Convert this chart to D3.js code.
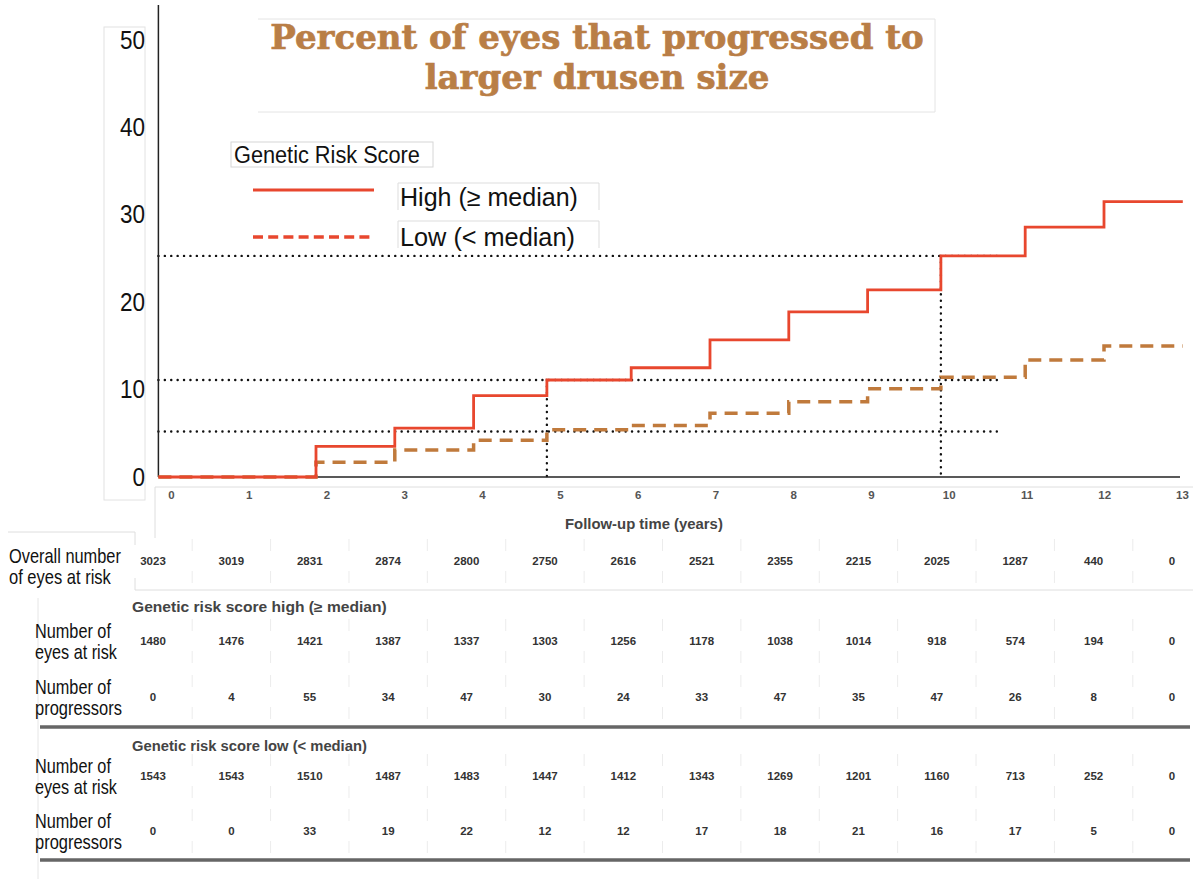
<!DOCTYPE html>
<html>
<head>
<meta charset="utf-8" />
<script src="https://d3js.org/d3.v7.min.js"></script>
<style>
  body { margin: 0; background: #fff; }
</style>
</head>
<body>
<svg id="chart"></svg>
<script>
// step curve data (percent progressed)
const stepTimes = [0, 2, 3, 4, 4.93, 6, 7, 8, 9, 9.93, 11, 12];
const endTime = 13;
const highPct = [0, 3.5, 5.6, 9.3, 11.1, 12.5, 15.7, 18.9, 21.4, 25.3, 28.6, 31.5];
const lowPct = [0, 1.7, 3.1, 4.2, 5.4, 5.9, 7.3, 8.6, 10.1, 11.4, 13.4, 15.0];

// dotted reference lines
const refLevels = [25.3, 11.1, 5.2];
const refEnd = 10.64;
const refVerticals = [{t: 4.93, top: 11.1}, {t: 9.93, top: 25.3}];

const yTicks = [0, 10, 20, 30, 40, 50];
const xTicks = [0, 1, 2, 3, 4, 5, 6, 7, 8, 9, 10, 11, 12, 13];

// numbers-at-risk table
const overallAtRisk = [3023, 3019, 2831, 2874, 2800, 2750, 2616, 2521, 2355, 2215, 2025, 1287, 440, 0];
const highAtRisk = [1480, 1476, 1421, 1387, 1337, 1303, 1256, 1178, 1038, 1014, 918, 574, 194, 0];
const highProg = [0, 4, 55, 34, 47, 30, 24, 33, 47, 35, 47, 26, 8, 0];
const lowAtRisk = [1543, 1543, 1510, 1487, 1483, 1447, 1412, 1343, 1269, 1201, 1160, 713, 252, 0];
const lowProg = [0, 0, 33, 19, 22, 12, 12, 17, 18, 21, 16, 17, 5, 0];

const W = 1200, H = 879;
const svg = d3.select('#chart').attr('width', W).attr('height', H);

const red = '#e8472e';
const brown = '#c07a3c';
const faint = '#dedede';
const sans = '"Liberation Sans", Arial, Helvetica, sans-serif';

const x = d3.scaleLinear().domain([0, 13]).range([158.4, 1182.8]);
const y = d3.scaleLinear().domain([0, 50]).range([477, 40]);
const xt = d3.scaleLinear().domain([0, 13]).range([171, 1182]);
const xc = d3.scaleLinear().domain([0, 13]).range([153, 1172]);

function line(x1, y1, x2, y2, stroke, w) {
    return svg.append('line').attr('x1', x1).attr('y1', y1).attr('x2', x2).attr('y2', y2)
        .attr('stroke', stroke).attr('stroke-width', w || 1);
}

// squeeze a text horizontally to the width seen in the picture (condensed look)
function squeeze(t, px, py, width) {
    const len = t.node().getComputedTextLength();
    t.attr('transform', `translate(${px},${py}) scale(${width / len},1)`);
    return t;
}
function narrow(px, py, size, str, width, opts) {
    opts = opts || {};
    const t = svg.append('text').attr('x', 0).attr('y', 0)
        .attr('font-family', sans).attr('font-size', size)
        .attr('font-weight', opts.bold ? 'bold' : 'normal')
        .attr('fill', opts.fill || '#111').text(str);
    return squeeze(t, px, py, width);
}

// frames / faint boxes of the pasted pieces
svg.append('rect').attr('x', 104).attr('y', 27).attr('width', 41).attr('height', 473)
    .attr('fill', 'none').attr('stroke', '#e2e2e2');
line(258, 19, 935, 19, '#e4e4e4');
line(258, 112, 935, 112, '#e4e4e4');
line(935, 19, 935, 112, '#e4e4e4');
line(155, 487, 1193, 487, faint);
line(155, 487, 155, 538, faint);

// title
const title = svg.append('text').attr('text-anchor', 'middle')
    .attr('font-family', '"DejaVu Serif", serif').attr('font-weight', 'bold')
    .attr('font-size', 34).attr('fill', '#b97e46')
    .attr('stroke', '#b97e46').attr('stroke-width', 0.7);
title.append('tspan').attr('x', 597).attr('y', 49).text('Percent of eyes that progressed to');
title.append('tspan').attr('x', 597).attr('y', 89).text('larger drusen size');

// y axis labels
const yAxis = svg.append('g').attr('transform', 'translate(145,0)')
    .call(d3.axisLeft(y).tickValues(yTicks).tickSize(0).tickPadding(0));
yAxis.select('.domain').remove();
yAxis.selectAll('text').attr('font-family', sans).attr('font-size', 25).attr('fill', '#111')
    .attr('transform', 'scale(0.9,1)');

// x axis labels
const xAxis = svg.append('g').attr('transform', 'translate(0,491)')
    .call(d3.axisBottom(xt).tickValues(xTicks).tickSize(0).tickPadding(0));
xAxis.select('.domain').remove();
xAxis.selectAll('text').attr('font-family', sans)
    .attr('font-weight', 'bold').attr('font-size', 11.5).attr('fill', '#555');

narrow(565, 529, 14, 'Follow-up time (years)', 158, {bold: true, fill: '#444'});

// dotted reference lines
refLevels.forEach(v => {
    line(x(0), y(v), x(refEnd), y(v), '#111', 2.4)
        .attr('stroke-dasharray', '0.1,6.3').attr('stroke-linecap', 'round');
});
refVerticals.forEach(r => {
    line(x(r.t), y(r.top), x(r.t), y(0), '#111', 2.4)
        .attr('stroke-dasharray', '0.1,6.3').attr('stroke-linecap', 'round');
});

// axes lines
line(x(0), 5, x(0), y(0), '#222', 1.5);
line(x(0), y(0), 1180, y(0), '#222', 1.5);

// step curves
function stepData(vals) {
    const pts = stepTimes.map((t, i) => [t, vals[i]]);
    pts.push([endTime, vals[vals.length - 1]]);
    return pts;
}
const stepLine = d3.line().x(d => x(d[0])).y(d => y(d[1])).curve(d3.curveStepAfter);

svg.append('path').datum(stepData(lowPct)).attr('d', stepLine)
    .attr('fill', 'none').attr('stroke', brown).attr('stroke-width', 3.5)
    .attr('stroke-dasharray', '13,8');
svg.append('path').datum(stepData(highPct)).attr('d', stepLine)
    .attr('fill', 'none').attr('stroke', red).attr('stroke-width', 2.8);

// legend
svg.append('rect').attr('x', 231).attr('y', 142).attr('width', 202).attr('height', 25)
    .attr('fill', '#fff').attr('stroke', '#d6d6d6');
narrow(234, 163, 23, 'Genetic Risk Score', 186);

line(398, 183, 599, 183, '#ddd'); line(599, 183, 599, 210, '#ddd'); line(398, 183, 398, 210, '#ddd');
line(398, 221, 599, 221, '#ddd'); line(599, 221, 599, 248, '#ddd'); line(398, 221, 398, 248, '#ddd');

line(253, 190, 374, 190, red, 2.8);
line(253, 237, 374, 237, red, 3.5).attr('stroke-dasharray', '10,5.2');
narrow(400, 206, 25.5, 'High (\u2265 median)', 178);
narrow(400, 246, 25.5, 'Low (< median)', 175);

// table
line(8, 532, 135, 532, faint);
line(135, 532, 135, 545, faint);
line(135, 578, 135, 590, faint);
line(135, 590, 1193, 590, faint);
line(38, 598, 38, 879, '#e6e6e6');

const rows = [
    {vals: overallAtRisk, y: 561, label: ['Overall number', 'of eyes at risk'], w: [112, 102], lx: 9, ly: 556},
    {vals: highAtRisk, y: 641, label: ['Number of', 'eyes at risk'], w: [76, 82], lx: 35, ly: 631},
    {vals: highProg, y: 697, label: ['Number of', 'progressors'], w: [76, 87], lx: 35, ly: 687},
    {vals: lowAtRisk, y: 776, label: ['Number of', 'eyes at risk'], w: [76, 82], lx: 35, ly: 766},
    {vals: lowProg, y: 831, label: ['Number of', 'progressors'], w: [76, 87], lx: 35, ly: 821}
];

rows.forEach(r => {
    // faint column dividers
    d3.range(13).forEach(i => {
        const mx = xc(i + 0.5);
        line(mx, r.y - 22, mx, r.y - 10, '#ececec');
        line(mx, r.y + 10, mx, r.y + 22, '#ececec');
    });
    svg.append('g').selectAll('text').data(r.vals).join('text')
        .attr('font-family', sans).attr('font-weight', 'bold')
        .attr('x', (d, i) => xc(i)).attr('y', r.y + 4)
        .attr('text-anchor', 'middle').attr('font-size', 11.5).attr('fill', '#333')
        .text(d => d);
    r.label.forEach((s, k) => {
        narrow(r.lx, r.ly + 7 + k * 21, 20, s, r.w[k]);
    });
});

narrow(132, 612, 14, 'Genetic risk score high (\u2265 median)', 255, {bold: true, fill: '#444'});
narrow(132, 751, 14, 'Genetic risk score low (< median)', 235, {bold: true, fill: '#444'});

line(40, 727, 1190, 727, '#666', 3.5);
line(40, 860, 1190, 860, '#666', 3.5);
</script>
</body>
</html>
